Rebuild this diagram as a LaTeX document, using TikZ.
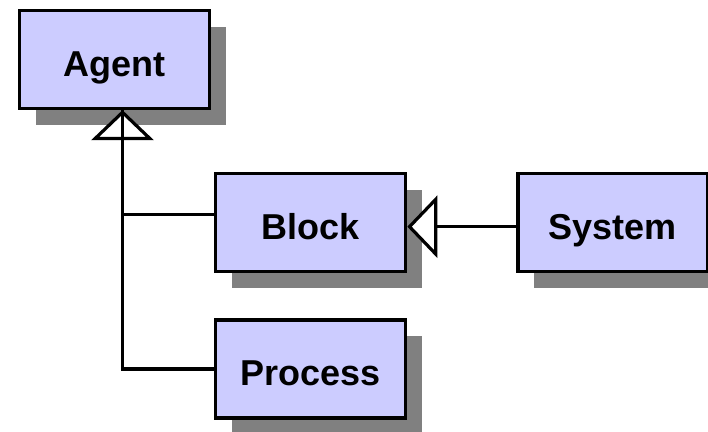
\documentclass[tikz,border=0pt]{standalone}
\usepackage{fontspec}
\setmainfont{Liberation Sans}
\usetikzlibrary{positioning,shadows,arrows.meta}
\definecolor{boxfill}{HTML}{CCCCFF}
\definecolor{shadowgray}{HTML}{808080}

\begin{document}
\begin{tikzpicture}[node distance=45pt,
  block/.style={draw, line width=3.2pt, fill=boxfill, minimum width=190pt, minimum height=98pt,
    font=\fontsize{36}{40}\selectfont\bfseries, text height=34pt, text depth=0pt,
    drop shadow={shadow xshift=16.5pt, shadow yshift=-16.5pt, fill=shadowgray, opacity=1}},
  inherit/.style={line width=3.2pt, -{Triangle[width=62pt, length=30pt, fill=white]}}]

  \useasboundingbox (0,0) rectangle (708pt,-431pt);

  % Blocks
  \node[block] (Agent) at (114.5pt,-59.5pt) {Agent};
  \node[block, below right=62pt and 3pt of Agent.south east] (Block) {Block};
  \node[block, right=109pt of Block] (System) {System};
  \node[block, below=of Block] (Process) {Process};

  % Trunk under Agent
  \coordinate (Trunk) at ([xshift=8pt]Agent.south);

  % Generalisation arrows
  \draw[inherit] ([yshift=8pt]Block.west) -| (Trunk);
  \draw[line width=3.2pt] (Process.west) -| (Trunk);
  \draw[inherit] ([yshift=-4pt]System.west) -- ([yshift=-4pt]Block.east);

\end{tikzpicture}
\end{document}
